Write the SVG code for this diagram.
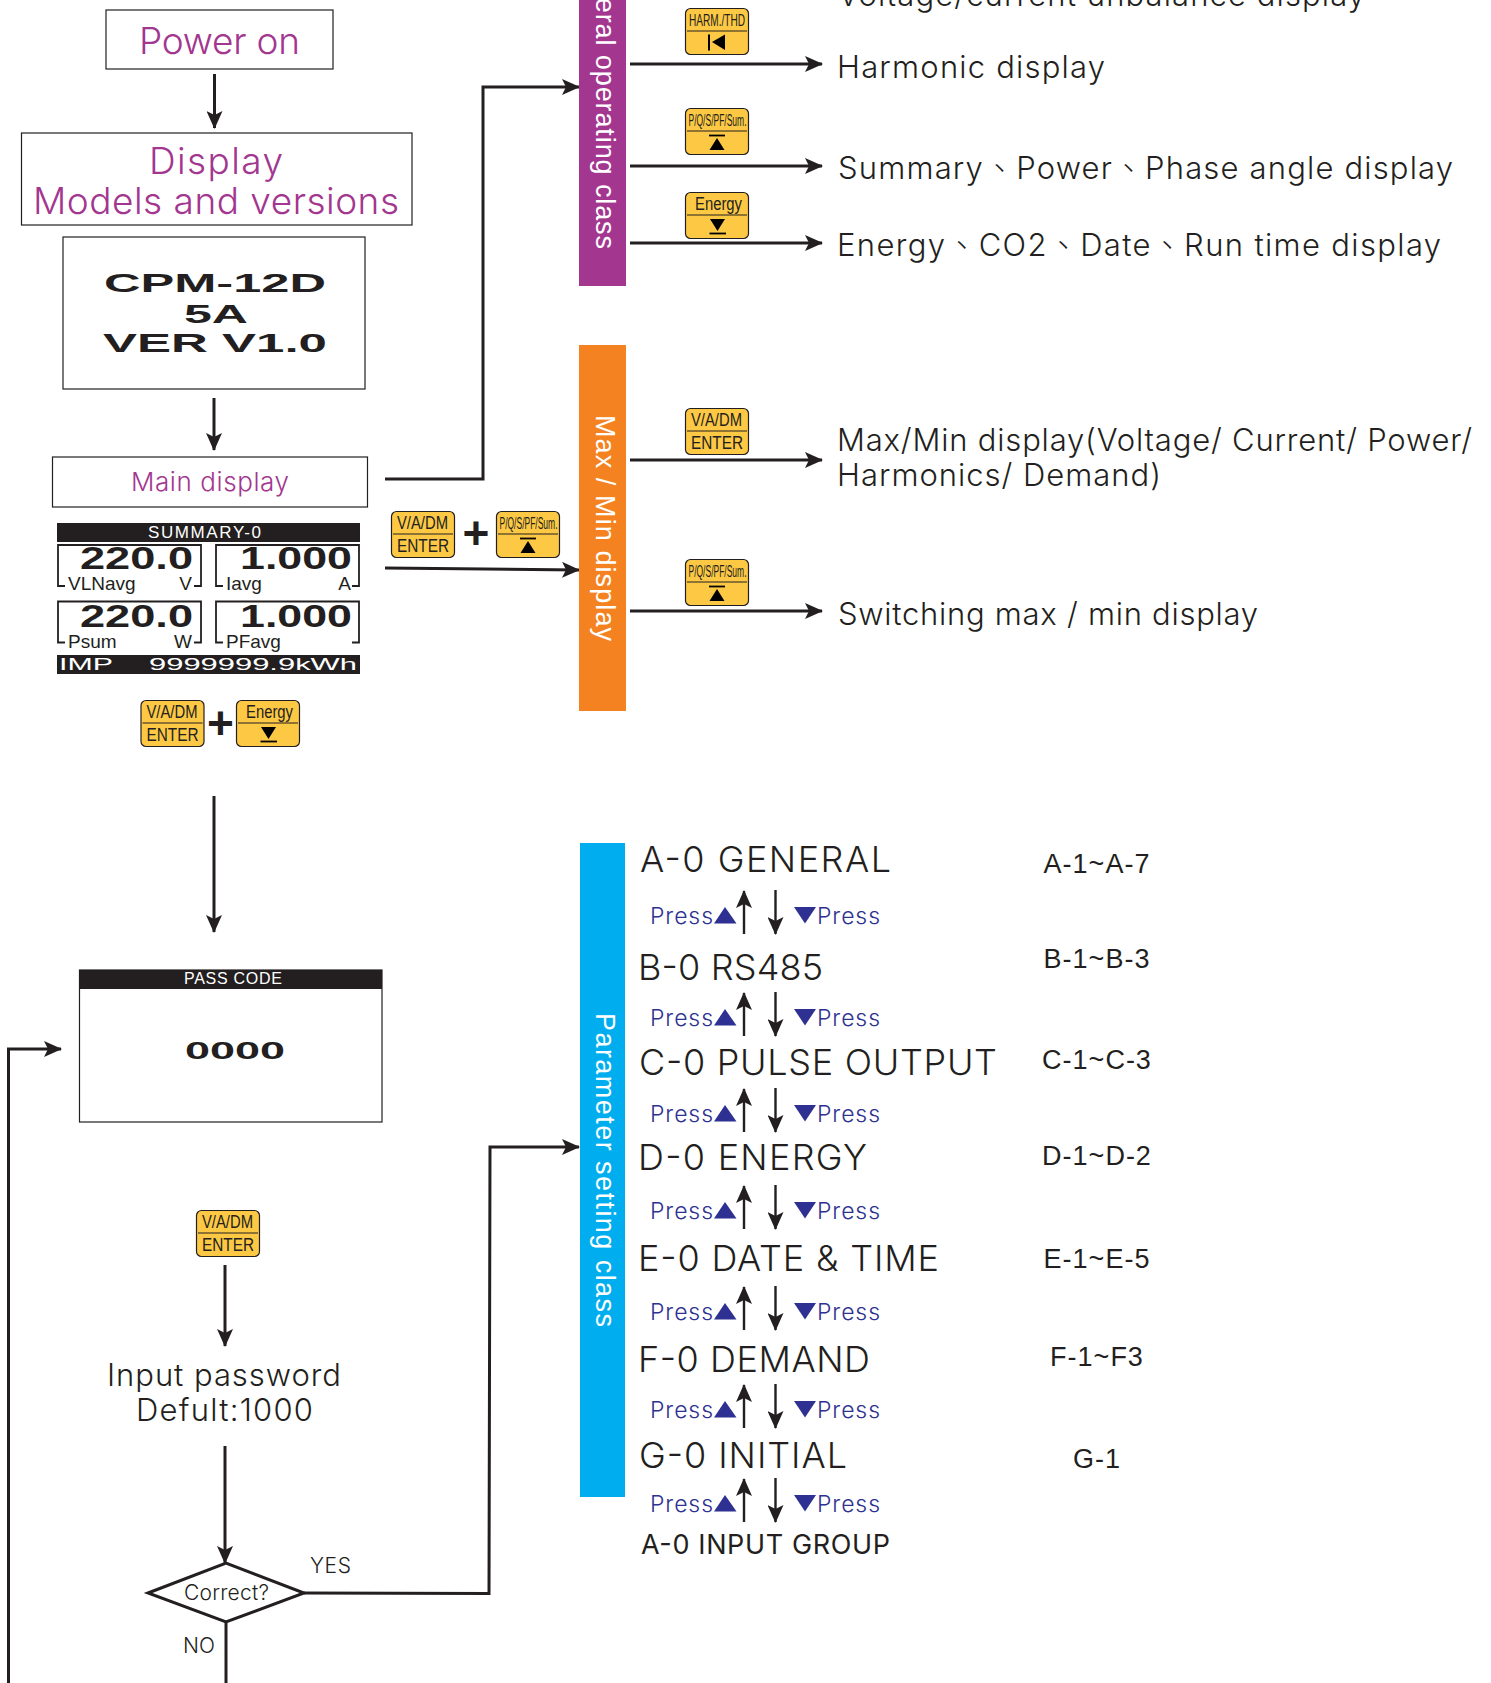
<svg xmlns="http://www.w3.org/2000/svg" width="1491" height="1683" viewBox="0 0 1491 1683">
<style>
text{font-family:"Inter","Liberation Sans","Noto Sans CJK TC",sans-serif;font-weight:300;fill:#231f20}
.box{fill:#fff;stroke:#231f20;stroke-width:1.2}
.m{fill:#a3368f;font-size:37px}
.t{font-size:31px}
.h{font-size:36px}
.c{font-family:"Liberation Sans",sans-serif;font-weight:400;font-size:27px;letter-spacing:1px;text-anchor:middle}
.p{fill:#2e3192;font-size:23px}
.n{fill:#2e3192}
.w{fill:#fff;font-family:"Liberation Sans",sans-serif;font-size:27px;font-weight:400}
.b{font-family:"Liberation Sans",sans-serif;font-weight:700}
.l{font-family:"Liberation Sans",sans-serif;font-weight:400;font-size:19px}
.k{fill:#fdc945;stroke:#231f20;stroke-width:1.2}
.kl{stroke:#231f20;stroke-width:1.2;fill:none}
.kt{font-family:"Liberation Sans",sans-serif;font-weight:400;font-size:18px}
.ks{font-family:"Liberation Sans",sans-serif;font-weight:400;font-size:16px}
.line{fill:none;stroke:#231f20;stroke-width:3}
.thin{fill:none;stroke:#231f20;stroke-width:2.4}
.br{fill:none;stroke:#231f20;stroke-width:1.8}
.plus{font-family:"Liberation Sans",sans-serif;font-weight:700;font-size:46px;text-anchor:middle}
</style>
<defs>
<marker id="ah" markerUnits="userSpaceOnUse" markerWidth="18" markerHeight="16" viewBox="0 0 18 16" refX="17" refY="8" orient="auto"><path d="M0 0L18 8L0 16L4 8Z" fill="#231f20"/></marker>
</defs>
<rect width="1491" height="1683" fill="#fff"/>

<g id="connectors">
<path class="line" d="M214.500 74V128" marker-end="url(#ah)"/>
<path class="line" d="M214 398V450" marker-end="url(#ah)"/>
<path class="line" d="M385 479H483V87H579" marker-end="url(#ah)"/>
<path class="line" d="M385 568L579 570" marker-end="url(#ah)"/>
<path class="line" d="M630 64H822" marker-end="url(#ah)"/>
<path class="line" d="M630 166H822" marker-end="url(#ah)"/>
<path class="line" d="M630 243H822" marker-end="url(#ah)"/>
<path class="line" d="M630 460H822" marker-end="url(#ah)"/>
<path class="line" d="M630 611H822" marker-end="url(#ah)"/>
<path class="line" d="M214 796V932" marker-end="url(#ah)"/>
<path class="line" d="M225 1265V1346" marker-end="url(#ah)"/>
<path class="line" d="M225 1446V1563" marker-end="url(#ah)"/>
<path class="line" d="M304 1593L489 1593.500L490 1147H579" marker-end="url(#ah)"/>
<path class="line" d="M226 1622V1683"/>
<path class="line" d="M8.500 1683V1049H61" marker-end="url(#ah)"/>
</g>

<g id="power-on"><rect class="box" x="106" y="10" width="227" height="59"/><text class="m" x="139" y="54" textLength="161">Power on</text></g>
<g id="display-models"><rect class="box" x="21.500" y="133" width="390.500" height="92"/><text class="m" x="149" y="174" textLength="134">Display</text><text class="m" x="33" y="214" textLength="366">Models and versions</text></g>
<g id="version-screen"><rect class="box" x="63" y="237" width="302" height="152"/>
<text class="b" font-size="25" x="104" y="292" textLength="222" lengthAdjust="spacingAndGlyphs">CPM-12D</text>
<text class="b" font-size="25" x="184" y="323" textLength="64" lengthAdjust="spacingAndGlyphs">5A</text>
<text class="b" font-size="25" x="103" y="352" textLength="224" lengthAdjust="spacingAndGlyphs">VER V1.0</text></g>
<g id="main-display"><rect class="box" x="52.500" y="457" width="315" height="50"/><text class="m" style="font-size:26px" x="131" y="491" textLength="158">Main display</text></g>

<g id="summary-screen">
<rect x="57" y="523" width="303" height="19" fill="#231f20"/>
<text class="l" style="fill:#fff;font-size:17px" x="148" y="538" textLength="113">SUMMARY-0</text>
<path class="br" d="M65 586H58V545H201V586H194"/>
<path class="br" d="M223 586H216V545H359V586H352"/>
<path class="br" d="M65 642.500H58V601.500H201V642.500H194"/>
<path class="br" d="M223 642.500H216V601.500H359V642.500H352"/>
<text class="b" font-size="31" x="80" y="569" textLength="113" lengthAdjust="spacingAndGlyphs">220.0</text>
<text class="b" font-size="31" x="240" y="569" textLength="112" lengthAdjust="spacingAndGlyphs">1.000</text>
<text class="b" font-size="31" x="80" y="627" textLength="113" lengthAdjust="spacingAndGlyphs">220.0</text>
<text class="b" font-size="31" x="240" y="627" textLength="112" lengthAdjust="spacingAndGlyphs">1.000</text>
<text class="l" x="68" y="590">VLNavg</text><text class="l" x="192" y="590" text-anchor="end">V</text>
<text class="l" x="226" y="590">Iavg</text><text class="l" x="351" y="590" text-anchor="end">A</text>
<text class="l" x="68" y="648">Psum</text><text class="l" x="192" y="648" text-anchor="end">W</text>
<text class="l" x="226" y="648">PFavg</text>
<rect x="57" y="655" width="303" height="19" fill="#231f20"/>
<text style="font-family:'Liberation Sans',sans-serif;font-weight:400;fill:#fff" font-size="17" x="59" y="670" textLength="54" lengthAdjust="spacingAndGlyphs">IMP</text>
<text style="font-family:'Liberation Sans',sans-serif;font-weight:400;fill:#fff" font-size="17" x="149" y="670" textLength="208" lengthAdjust="spacingAndGlyphs">9999999.9kWh</text>
</g>

<g id="key-combo-max">
<g transform="translate(391 511)"><rect class="k" x=".5" y=".5" width="63" height="46" rx="5"/><path class="kl" d="M2 23H62"/><text class="kt" x="6" y="18" textLength="51" lengthAdjust="spacingAndGlyphs">V/A/DM</text><text class="kt" x="6" y="41" textLength="52" lengthAdjust="spacingAndGlyphs">ENTER</text></g>
<text class="plus" x="476" y="549">+</text>
<g transform="translate(496 511)"><rect class="k" x=".5" y=".5" width="63" height="46" rx="5"/><path class="kl" d="M2 23H62"/><text class="ks" x="3.500" y="18" textLength="58" lengthAdjust="spacingAndGlyphs">P/Q/S/PF/Sum.</text><path d="M24 27.500H40" stroke="#000" stroke-width="1.800"/><path d="M32 30L39.500 42H24.500Z" fill="#000"/></g>
</g>
<g id="key-combo-setup">
<g transform="translate(140.500 700)"><rect class="k" x=".5" y=".5" width="63" height="46" rx="5"/><path class="kl" d="M2 23H62"/><text class="kt" x="6" y="18" textLength="51" lengthAdjust="spacingAndGlyphs">V/A/DM</text><text class="kt" x="6" y="41" textLength="52" lengthAdjust="spacingAndGlyphs">ENTER</text></g>
<text class="plus" x="220.500" y="739">+</text>
<g transform="translate(236 700)"><rect class="k" x=".5" y=".5" width="63" height="46" rx="5"/><path class="kl" d="M2 23H62"/><text class="kt" x="10" y="18" textLength="47" lengthAdjust="spacingAndGlyphs">Energy</text><path d="M25 27H40L32.500 39Z" fill="#000"/><path d="M24.500 41.500H41" stroke="#000" stroke-width="1.800"/></g>
</g>

<g id="general-class"><rect x="579" y="-10" width="47" height="296" fill="#a3368f"/><text class="w" transform="translate(596 -56) rotate(90)" textLength="305">General operating class</text></g>
<g id="harmonic-row"><g transform="translate(685 8)"><rect class="k" x=".5" y=".5" width="63" height="46" rx="5"/><path class="kl" d="M2 23H62"/><text class="ks" x="4" y="18" textLength="56" lengthAdjust="spacingAndGlyphs">HARM./THD</text><path d="M24 26.500V42.500" stroke="#000" stroke-width="2"/><path d="M40 26.500V42L27 34Z" fill="#000"/></g><text class="t" x="837" y="78" textLength="268">Harmonic display</text></g>
<g id="summary-row"><g transform="translate(685 108)"><rect class="k" x=".5" y=".5" width="63" height="46" rx="5"/><path class="kl" d="M2 23H62"/><text class="ks" x="3.500" y="18" textLength="58" lengthAdjust="spacingAndGlyphs">P/Q/S/PF/Sum.</text><path d="M24 27.500H40" stroke="#000" stroke-width="1.800"/><path d="M32 30L39.500 42H24.500Z" fill="#000"/></g><text class="t" x="838" y="179" textLength="615">Summary、Power、Phase angle display</text></g>
<g id="energy-row"><g transform="translate(685 192)"><rect class="k" x=".5" y=".5" width="63" height="46" rx="5"/><path class="kl" d="M2 23H62"/><text class="kt" x="10" y="18" textLength="47" lengthAdjust="spacingAndGlyphs">Energy</text><path d="M25 27H40L32.500 39Z" fill="#000"/><path d="M24.500 41.500H41" stroke="#000" stroke-width="1.800"/></g><text class="t" x="837" y="256" textLength="604">Energy、CO2、Date、Run time display</text></g>
<g id="unbalance-row"><text class="t" x="838" y="6" textLength="527">Voltage/current unbalance display</text></g>

<g id="max-min-class"><rect x="579" y="345" width="47" height="366" fill="#f58220"/><text class="w" transform="translate(596 415) rotate(90)" textLength="226">Max / Min display</text></g>
<g id="max-min-row"><g transform="translate(685 408)"><rect class="k" x=".5" y=".5" width="63" height="46" rx="5"/><path class="kl" d="M2 23H62"/><text class="kt" x="6" y="18" textLength="51" lengthAdjust="spacingAndGlyphs">V/A/DM</text><text class="kt" x="6" y="41" textLength="52" lengthAdjust="spacingAndGlyphs">ENTER</text></g><text class="t" x="837" y="451" textLength="635">Max/Min display(Voltage/ Current/ Power/</text><text class="t" x="837" y="486" textLength="324">Harmonics/ Demand)</text></g>
<g id="switch-row"><g transform="translate(685 559)"><rect class="k" x=".5" y=".5" width="63" height="46" rx="5"/><path class="kl" d="M2 23H62"/><text class="ks" x="3.500" y="18" textLength="58" lengthAdjust="spacingAndGlyphs">P/Q/S/PF/Sum.</text><path d="M24 27.500H40" stroke="#000" stroke-width="1.800"/><path d="M32 30L39.500 42H24.500Z" fill="#000"/></g><text class="t" x="838" y="625" textLength="420">Switching max / min display</text></g>

<g id="pass-code"><rect class="box" x="79.500" y="970" width="302.500" height="152"/><rect x="79.500" y="970" width="302.500" height="19" fill="#231f20"/><text class="l" style="fill:#fff;font-size:16px" x="184" y="984" textLength="98">PASS CODE</text><text class="b" font-size="24" x="185" y="1059" textLength="100" lengthAdjust="spacingAndGlyphs">0000</text></g>
<g id="enter-key"><g transform="translate(196 1210)"><rect class="k" x=".5" y=".5" width="63" height="46" rx="5"/><path class="kl" d="M2 23H62"/><text class="kt" x="6" y="18" textLength="51" lengthAdjust="spacingAndGlyphs">V/A/DM</text><text class="kt" x="6" y="41" textLength="52" lengthAdjust="spacingAndGlyphs">ENTER</text></g></g>
<g id="input-password"><text class="t" x="107" y="1386" textLength="234">Input password</text><text class="t" x="136" y="1421" textLength="177">Defult:1000</text></g>
<g id="correct"><path d="M148 1593L226 1563L304 1593L226 1622Z" fill="#fff" stroke="#231f20" stroke-width="3"/><text x="184" y="1600" font-size="21" textLength="85">Correct?</text><text x="310" y="1573" font-size="21" textLength="41">YES</text><text x="183" y="1653" font-size="21" textLength="32">NO</text></g>

<g id="parameter-class"><rect x="580" y="843" width="45" height="654" fill="#00aeef"/><text class="w" transform="translate(596 1013) rotate(90)" textLength="314">Parameter setting class</text></g>
<g id="param-a"><text class="h" x="640" y="872" textLength="251">A-0 GENERAL</text><text class="c" x="1097" y="873">A-1~A-7</text></g>
<g id="param-b"><text class="h" x="638" y="980" textLength="185">B-0 RS485</text><text class="c" x="1097" y="968">B-1~B-3</text></g>
<g id="param-c"><text class="h" x="639" y="1075" textLength="358">C-0 PULSE OUTPUT</text><text class="c" x="1097" y="1069">C-1~C-3</text></g>
<g id="param-d"><text class="h" x="638" y="1170" textLength="229">D-0 ENERGY</text><text class="c" x="1097" y="1165">D-1~D-2</text></g>
<g id="param-e"><text class="h" x="638" y="1271" textLength="301">E-0 DATE &amp; TIME</text><text class="c" x="1097" y="1268">E-1~E-5</text></g>
<g id="param-f"><text class="h" x="638" y="1372" textLength="232">F-0 DEMAND</text><text class="c" x="1097" y="1366">F-1~F3</text></g>
<g id="param-g"><text class="h" x="639" y="1468" textLength="208">G-0 INITIAL</text><text class="c" x="1097" y="1468">G-1</text></g>
<g id="param-end"><text x="641" y="1554" font-size="27" style="font-weight:400" textLength="249">A-0 INPUT GROUP</text></g>

<g id="press-rows">
<g transform="translate(0 0)"><text class="p" x="650" y="924" textLength="63">Press</text><path class="n" d="M725 907L736.500 923.500H714Z"/><path class="thin" d="M744 934V891" marker-end="url(#ah)"/><path class="thin" d="M775.500 890V934" marker-end="url(#ah)"/><path class="n" d="M794 907H816L805 923.500Z"/><text class="p" x="817" y="924" textLength="63">Press</text></g>
<g transform="translate(0 102)"><text class="p" x="650" y="924" textLength="63">Press</text><path class="n" d="M725 907L736.500 923.500H714Z"/><path class="thin" d="M744 934V891" marker-end="url(#ah)"/><path class="thin" d="M775.500 890V934" marker-end="url(#ah)"/><path class="n" d="M794 907H816L805 923.500Z"/><text class="p" x="817" y="924" textLength="63">Press</text></g>
<g transform="translate(0 198)"><text class="p" x="650" y="924" textLength="63">Press</text><path class="n" d="M725 907L736.500 923.500H714Z"/><path class="thin" d="M744 934V891" marker-end="url(#ah)"/><path class="thin" d="M775.500 890V934" marker-end="url(#ah)"/><path class="n" d="M794 907H816L805 923.500Z"/><text class="p" x="817" y="924" textLength="63">Press</text></g>
<g transform="translate(0 295)"><text class="p" x="650" y="924" textLength="63">Press</text><path class="n" d="M725 907L736.500 923.500H714Z"/><path class="thin" d="M744 934V891" marker-end="url(#ah)"/><path class="thin" d="M775.500 890V934" marker-end="url(#ah)"/><path class="n" d="M794 907H816L805 923.500Z"/><text class="p" x="817" y="924" textLength="63">Press</text></g>
<g transform="translate(0 396)"><text class="p" x="650" y="924" textLength="63">Press</text><path class="n" d="M725 907L736.500 923.500H714Z"/><path class="thin" d="M744 934V891" marker-end="url(#ah)"/><path class="thin" d="M775.500 890V934" marker-end="url(#ah)"/><path class="n" d="M794 907H816L805 923.500Z"/><text class="p" x="817" y="924" textLength="63">Press</text></g>
<g transform="translate(0 494)"><text class="p" x="650" y="924" textLength="63">Press</text><path class="n" d="M725 907L736.500 923.500H714Z"/><path class="thin" d="M744 934V891" marker-end="url(#ah)"/><path class="thin" d="M775.500 890V934" marker-end="url(#ah)"/><path class="n" d="M794 907H816L805 923.500Z"/><text class="p" x="817" y="924" textLength="63">Press</text></g>
<g transform="translate(0 588)"><text class="p" x="650" y="924" textLength="63">Press</text><path class="n" d="M725 907L736.500 923.500H714Z"/><path class="thin" d="M744 934V891" marker-end="url(#ah)"/><path class="thin" d="M775.500 890V934" marker-end="url(#ah)"/><path class="n" d="M794 907H816L805 923.500Z"/><text class="p" x="817" y="924" textLength="63">Press</text></g>
</g>
</svg>
